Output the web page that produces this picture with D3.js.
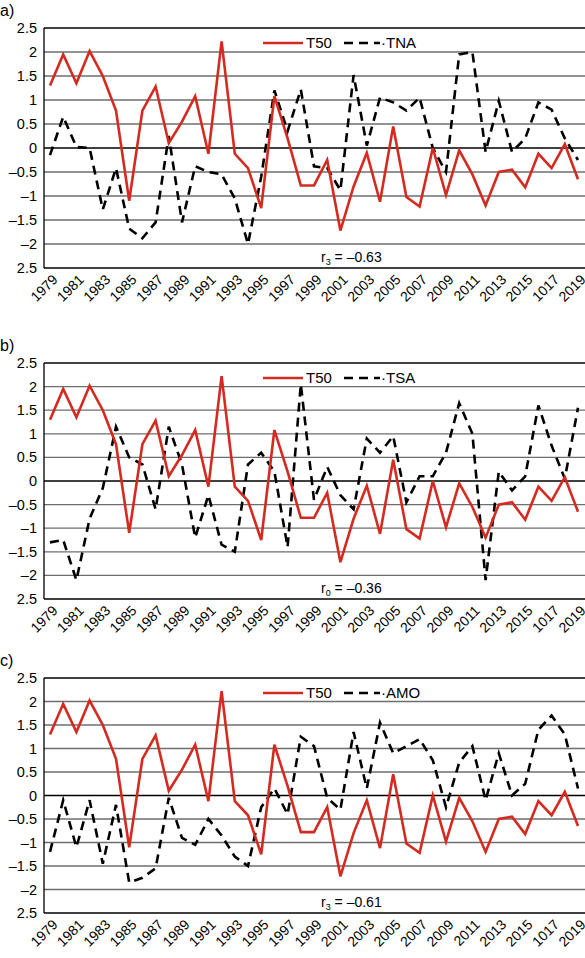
<!DOCTYPE html>
<html>
<head>
<meta charset="utf-8">
<script src="https://cdn.jsdelivr.net/npm/d3@7"></script>
<style>
  body { margin: 0; background: #fff; }
  text { font-family: "Liberation Sans", Arial, sans-serif; }
</style>
</head>
<body>
<svg id="chart" width="585" height="958"></svg>
<script>
// years 1979..2019
var years = d3.range(1979, 2020);
var yearLabels = ["1979","1981","1983","1985","1987","1989","1991","1993","1995","1997","1999",
  "2001","2003","2005","2007","2009","2011","2013","2015","1017","2019"];
var yTicks = [2.5, 2, 1.5, 1, 0.5, 0, -0.5, -1, -1.5, -2, -2.5];

var t50 = [1.3, 1.95, 1.35, 2.02, 1.5, 0.78, -1.1, 0.78, 1.28, 0.1, 0.55, 1.08, -0.12, 2.22, -0.12, -0.42,
  -1.25, 1.08, 0.2, -0.78, -0.78, -0.25, -1.72, -0.8, -0.1, -1.12, 0.45, -1.02, -1.22, 0.0, -0.98,
  -0.05, -0.55, -1.2, -0.5, -0.45, -0.82, -0.12, -0.42, 0.08, -0.65];
var tna = [-0.15, 0.65, 0.02, 0.0, -1.28, -0.42, -1.68, -1.88, -1.55, 0.25, -1.55, -0.38, -0.5, -0.55,
  -1.05, -2.0, -0.6, 1.2, 0.35, 1.22, -0.38, -0.42, -0.88, 1.52, 0.05, 1.05, 0.95, 0.78, 1.05, 0.0,
  -0.5, 1.95, 2.0, -0.08, 0.98, -0.08, 0.2, 0.95, 0.8, 0.2, -0.25];
var tsa = [-1.3, -1.25, -2.1, -0.8, -0.15, 1.15, 0.5, 0.35, -0.6, 1.15, 0.35, -1.2, -0.3, -1.35, -1.5,
  0.35, 0.6, 0.2, -1.4, 2.05, -0.4, 0.3, -0.3, -0.6, 0.9, 0.6, 0.95, -0.45, 0.1, 0.1, 0.6, 1.65, 1.0,
  -2.1, 0.2, -0.2, 0.1, 1.6, 0.75, 0.05, 1.55];
var amo = [-1.2, -0.1, -1.1, -0.1, -1.45, -0.2, -1.85, -1.75, -1.55, -0.05, -0.9, -1.05, -0.5, -0.85,
  -1.3, -1.5, -0.25, 0.15, -0.4, 1.25, 1.05, -0.05, -0.3, 1.35, 0.15, 1.55, 0.9, 1.05, 1.2, 0.75,
  -0.25, 0.7, 1.05, -0.1, 0.9, 0.0, 0.25, 1.4, 1.7, 1.3, 0.15];

var panels = [
  { tag: "a)", name: "TNA", values: tna, top: 28, bottom: 268, rSub: "3", rText: " = \u20130.63" },
  { tag: "b)", name: "TSA", values: tsa, top: 363, bottom: 599, rSub: "0", rText: "  = \u20130.36" },
  { tag: "c)", name: "AMO", values: amo, top: 678, bottom: 913, rSub: "3", rText: " = \u20130.61" }
];

var svg = d3.select("#chart");
var x = d3.scaleLinear().domain([1979, 2019]).range([50, 578]);
var fmt = function(d) {
  if (d === -2.5) return "2.5"; // as printed in the figure
  return (d < 0 ? "\u2013" : "") + Math.abs(d);
};

panels.forEach(function(p) {
  var y = d3.scaleLinear().domain([-2.5, 2.5]).range([p.bottom, p.top]);
  var g = svg.append("g");

  g.append("text").attr("x", 0).attr("y", p.top - 12).attr("font-size", 16).text(p.tag);

  // gridlines
  g.selectAll(".grid").data(yTicks).enter().append("line")
    .attr("x1", 44).attr("x2", 585)
    .attr("y1", function(d) { return y(d); }).attr("y2", function(d) { return y(d); })
    .attr("stroke", function(d) { return (d === 0 || Math.abs(d) === 2.5) ? "#000" : "#6e6e6e"; })
    .attr("stroke-width", 1.3);
  g.append("line").attr("x1", 44).attr("x2", 44).attr("y1", p.top).attr("y2", p.bottom)
    .attr("stroke", "#000").attr("stroke-width", 1.3);

  // y tick labels
  g.selectAll(".yl").data(yTicks).enter().append("text")
    .attr("x", 37).attr("y", function(d) { return y(d); }).attr("dy", "0.35em")
    .attr("text-anchor", "end").attr("font-size", 14.5).text(fmt);

  // x tick labels
  g.selectAll(".xl").data(yearLabels).enter().append("text")
    .attr("transform", function(d, i) {
      return "translate(" + (x(1979 + 2 * i) + 1) + "," + (p.bottom + 5) + ") rotate(-45)";
    })
    .attr("text-anchor", "end").attr("dy", "0.75em").attr("font-size", 14).text(function(d) { return d; });

  var line = d3.line().x(function(d, i) { return x(years[i]); }).y(function(d) { return y(d); });

  g.append("path").datum(p.values).attr("d", line).attr("fill", "none")
    .attr("stroke", "#000").attr("stroke-width", 2.6).attr("stroke-dasharray", "9,6");
  g.append("path").datum(t50).attr("d", line).attr("fill", "none")
    .attr("stroke", "#d42a20").attr("stroke-width", 2.6).attr("stroke-linejoin", "miter");

  // legend
  var ly = p.top + 15;
  g.append("line").attr("x1", 263).attr("x2", 303).attr("y1", ly).attr("y2", ly)
    .attr("stroke", "#d42a20").attr("stroke-width", 2.6);
  g.append("text").attr("x", 306).attr("y", ly).attr("dy", "0.35em").attr("font-size", 15).text("T50");
  g.append("line").attr("x1", 344).attr("x2", 380).attr("y1", ly).attr("y2", ly)
    .attr("stroke", "#000").attr("stroke-width", 2.6).attr("stroke-dasharray", "9,6");
  g.append("text").attr("x", 381).attr("y", ly).attr("dy", "0.35em").attr("font-size", 15)
    .text("\u00b7" + p.name);

  // correlation label
  var rt = g.append("text").attr("x", 321).attr("y", p.bottom - 6).attr("font-size", 14);
  rt.append("tspan").text("r");
  rt.append("tspan").attr("font-size", 9).attr("dy", 3).text(p.rSub);
  rt.append("tspan").attr("dy", -3).text(p.rText);
});
</script>
</body>
</html>
